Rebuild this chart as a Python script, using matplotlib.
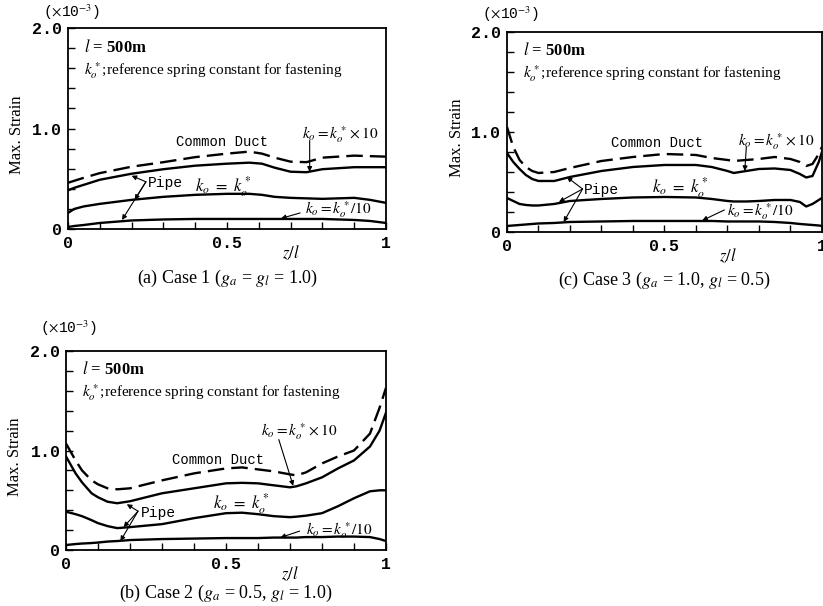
import matplotlib
matplotlib.use("Agg")
from matplotlib import pyplot as plt

plt.rcParams['mathtext.fontset'] = 'stix'
plt.rcParams['font.family'] = 'Liberation Serif'

# =========================
# DANE - (a) Case 1
# =========================
x_a = [0, 0.02, 0.05, 0.1, 0.2, 0.3, 0.4, 0.5, 0.57, 0.61, 0.65, 0.7, 0.75, 0.8, 0.9, 0.95, 1.0]
duct_a = [0.46, 0.48, 0.51, 0.556, 0.62, 0.665, 0.715, 0.75, 0.77, 0.75, 0.71, 0.67, 0.665, 0.71, 0.73, 0.725, 0.72]
pipe10_a = [0.385, 0.41, 0.44, 0.49, 0.55, 0.595, 0.63, 0.65, 0.66, 0.65, 0.61, 0.57, 0.565, 0.595, 0.615, 0.615, 0.615]
pipe1_a = [0.16, 0.2, 0.225, 0.25, 0.29, 0.32, 0.34, 0.35, 0.35, 0.34, 0.32, 0.31, 0.305, 0.3, 0.31, 0.29, 0.26]
pipe01_a = [0.02, 0.03, 0.04, 0.06, 0.085, 0.095, 0.1, 0.1, 0.1, 0.1, 0.1, 0.1, 0.1, 0.1, 0.09, 0.08, 0.06]

# =========================
# DANE - (c) Case 3
# =========================
x_c = [0, 0.02, 0.04, 0.06, 0.08, 0.1, 0.15, 0.2, 0.3, 0.4, 0.5, 0.6, 0.65, 0.7, 0.72, 0.76, 0.8, 0.85, 0.9, 0.93, 0.95, 0.97, 0.99, 1.0]
duct_c = [1.05, 0.85, 0.72, 0.65, 0.61, 0.59, 0.6, 0.64, 0.71, 0.75, 0.78, 0.77, 0.74, 0.72, 0.71, 0.72, 0.73, 0.75, 0.73, 0.70, 0.66, 0.68, 0.78, 0.85]
pipe10_c = [0.79, 0.70, 0.63, 0.57, 0.53, 0.51, 0.51, 0.55, 0.61, 0.65, 0.67, 0.67, 0.65, 0.61, 0.59, 0.61, 0.63, 0.635, 0.62, 0.58, 0.545, 0.56, 0.7, 0.8]
pipe1_c = [0.34, 0.31, 0.28, 0.27, 0.265, 0.265, 0.28, 0.31, 0.33, 0.345, 0.35, 0.345, 0.33, 0.31, 0.305, 0.305, 0.31, 0.32, 0.32, 0.3, 0.255, 0.28, 0.32, 0.34]
pipe01_c = [0.06, 0.065, 0.07, 0.075, 0.08, 0.085, 0.09, 0.1, 0.105, 0.11, 0.11, 0.11, 0.11, 0.105, 0.105, 0.105, 0.105, 0.1, 0.09, 0.08, 0.075, 0.07, 0.065, 0.06]

# =========================
# DANE - (b) Case 2
# =========================
x_b = [0, 0.03, 0.05, 0.08, 0.1, 0.13, 0.16, 0.2, 0.3, 0.4, 0.5, 0.55, 0.6, 0.65, 0.7, 0.72, 0.75, 0.8, 0.85, 0.9, 0.95, 0.98, 1.0]
duct_b = [1.07, 0.9, 0.8, 0.7, 0.66, 0.62, 0.61, 0.62, 0.7, 0.77, 0.82, 0.83, 0.81, 0.79, 0.76, 0.75, 0.78, 0.87, 0.94, 1.0, 1.17, 1.43, 1.63]
pipe10_b = [0.94, 0.77, 0.68, 0.57, 0.53, 0.485, 0.47, 0.49, 0.57, 0.62, 0.67, 0.675, 0.67, 0.65, 0.63, 0.64, 0.67, 0.73, 0.82, 0.9, 1.04, 1.2, 1.38]
pipe1_b = [0.385, 0.36, 0.34, 0.3, 0.27, 0.24, 0.22, 0.23, 0.26, 0.32, 0.37, 0.375, 0.36, 0.34, 0.33, 0.335, 0.345, 0.37, 0.44, 0.52, 0.59, 0.6, 0.6]
pipe01_b = [0.05, 0.06, 0.065, 0.07, 0.075, 0.085, 0.09, 0.1, 0.11, 0.115, 0.12, 0.12, 0.12, 0.125, 0.125, 0.125, 0.13, 0.13, 0.135, 0.135, 0.13, 0.11, 0.09]

x_ticks = [0, 0.5, 1]
x_labels = ["0", "0.5", "1"]
y_ticks = [0, 1.0, 2.0]
y_labels = ["0", "1.0", "2.0"]

MONO = 'Liberation Mono'
arrow_kw = dict(arrowstyle='-|>', color='black', lw=0.8, mutation_scale=7, shrinkA=0, shrinkB=0)


def panel(ax, x, duct, p10, p1, p01, caption, pos):
    ax.plot(x, duct, color='black', lw=1.7, dashes=(7, 3))
    ax.plot(x, p10, color='black', lw=1.7)
    ax.plot(x, p1, color='black', lw=1.7)
    ax.plot(x, p01, color='black', lw=1.7)

    ax.set_xlim(0, 1)
    ax.set_ylim(0, 2.0)
    ax.set_xticks(x_ticks)
    ax.set_xticklabels(x_labels, fontfamily=MONO, fontsize=12, fontweight='bold')
    ax.set_yticks(y_ticks)
    ax.set_yticklabels(y_labels, fontfamily=MONO, fontsize=12, fontweight='bold')
    ax.set_xticks([i / 10 for i in range(11)], minor=True)
    ax.set_yticks([i / 5 for i in range(11)], minor=True)
    ax.tick_params(which='both', direction='in', length=5, width=1)
    ax.tick_params(axis='x', pad=5)
    ax.tick_params(axis='y', pad=4)
    for s in ax.spines.values():
        s.set_linewidth(1.3)

    ax.text(-0.08, pos['exp'], r"($\times$10$^{-3}$)", transform=ax.transAxes,
            fontfamily=MONO, fontsize=10.5, va='center', ha='left')
    ax.text(-0.16, 0.47, "Max. Strain", transform=ax.transAxes, rotation=90,
            fontsize=12, va='center', ha='center')
    ax.text(0.7, -0.12, "$z/l$", transform=ax.transAxes, fontsize=12, ha='center', va='center')
    ax.text(0.5, pos['cap'], caption, transform=ax.transAxes, fontsize=13, ha='center', va='center')

    ax.text(0.05, 1.81, "$\\mathbf{\\mathit{l}}$ = 500m", fontsize=12, fontweight='bold', va='center')
    ax.text(0.05, 1.58, "$k_o^*$;reference spring constant for fastening", fontsize=11, va='center')

    # etykiety krzywych
    ax.text(pos['duct'][0], pos['duct'][1], "Common Duct", fontfamily=MONO, fontsize=10, va='center')
    ax.text(pos['pipe'][0], pos['pipe'][1], "Pipe", fontfamily=MONO, fontsize=10.5, va='center')
    ax.text(pos['k1'][0], pos['k1'][1], r"$k_o\ =\ k_o^*$", fontsize=12, va='center')
    ax.text(pos['k10'][0], pos['k10'][1], r"$k_o = k_o^* \times 10$", fontsize=11, va='center')
    ax.text(pos['k01'][0], pos['k01'][1], "$k_o = k_o^*/10$", fontsize=11, va='center')

    for tgt in pos['pipe_arrows']:
        ax.annotate("", xy=tgt, xytext=pos['pipe_from'], arrowprops=arrow_kw)
    ax.annotate("", xy=pos['k10_arrow'][1], xytext=pos['k10_arrow'][0], arrowprops=arrow_kw)
    ax.annotate("", xy=pos['k01_arrow'][1], xytext=pos['k01_arrow'][0], arrowprops=arrow_kw)


fig = plt.figure(figsize=(8.23, 6.06), dpi=100)

ax_a = fig.add_axes([0.0826, 0.6221, 0.3864, 0.3317])
panel(ax_a, x_a, duct_a, pipe10_a, pipe1_a, pipe01_a,
      "(a) Case 1 ($g_a$ = $g_l$ = 1.0)",
      dict(exp=1.08, cap=-0.245, duct=(0.34, 0.87), pipe=(0.25, 0.46), k1=(0.40, 0.42),
           k10=(0.735, 0.94), k01=(0.745, 0.19),
           pipe_from=(0.245, 0.47), pipe_arrows=[(0.2, 0.53), (0.21, 0.29), (0.17, 0.09)],
           k10_arrow=((0.76, 0.88), (0.76, 0.57)), k01_arrow=((0.73, 0.16), (0.67, 0.105))))

ax_c = fig.add_axes([0.616, 0.6172, 0.3827, 0.330])
panel(ax_c, x_c, duct_c, pipe10_c, pipe1_c, pipe01_c,
      "(c) Case 3 ($g_a$ = 1.0, $g_l$ = 0.5)",
      dict(exp=1.09, cap=-0.24, duct=(0.33, 0.89), pipe=(0.245, 0.42), k1=(0.46, 0.44),
           k10=(0.735, 0.9), k01=(0.70, 0.2),
           pipe_from=(0.24, 0.43), pipe_arrows=[(0.19, 0.55), (0.165, 0.3), (0.18, 0.1)],
           k10_arrow=((0.76, 0.85), (0.755, 0.61)), k01_arrow=((0.69, 0.22), (0.62, 0.115))))

ax_b = fig.add_axes([0.0802, 0.0924, 0.3888, 0.3284])
panel(ax_b, x_b, duct_b, pipe10_b, pipe1_b, pipe01_b,
      "(b) Case 2 ($g_a$ = 0.5, $g_l$ = 1.0)",
      dict(exp=1.115, cap=-0.216, duct=(0.33, 0.90), pipe=(0.235, 0.375), k1=(0.46, 0.47),
           k10=(0.61, 1.19), k01=(0.75, 0.2),
           pipe_from=(0.225, 0.39), pipe_arrows=[(0.19, 0.46), (0.18, 0.23), (0.17, 0.09)],
           k10_arrow=((0.665, 1.11), (0.71, 0.645)), k01_arrow=((0.73, 0.19), (0.67, 0.125))))

plt.savefig("out.png", dpi=100)
plt.close()
